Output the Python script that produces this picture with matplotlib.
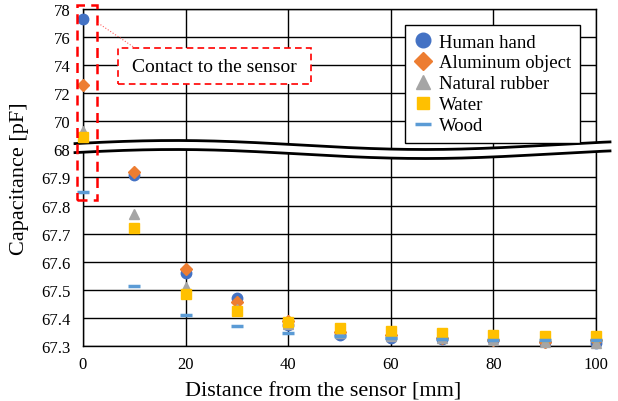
import numpy as np
import matplotlib
matplotlib.use("Agg")
import matplotlib.pyplot as plt
from matplotlib.patches import Rectangle
from matplotlib.ticker import FixedLocator

plt.rcParams['font.family'] = ['Liberation Serif', 'DejaVu Serif']

distance = [0, 10, 20, 30, 40, 50, 60, 70, 80, 90, 100]
human_hand = [77.3, 67.91, 67.56, 67.47, 67.375, 67.34, 67.33, 67.325, 67.32, 67.315, 67.31]
aluminum = [72.6, 67.92, 67.575, 67.455, 67.39, 67.35, 67.34, 67.33, 67.32, 67.315, 67.32]
rubber = [69.3, 67.77, 67.51, 67.43, 67.38, 67.345, 67.335, 67.33, 67.32, 67.315, 67.31]
water = [68.85, 67.72, 67.485, 67.425, 67.385, 67.365, 67.355, 67.345, 67.34, 67.335, 67.335]
wood = [67.85, 67.515, 67.41, 67.37, 67.345, 67.335, 67.33, 67.325, 67.32, 67.32, 67.32]

y_ticks = [67.3, 67.4, 67.5, 67.6, 67.7, 67.8, 67.9, 68, 70, 72, 74, 76, 78]
y_tick_labels = ['67.3', '67.4', '67.5', '67.6', '67.7', '67.8', '67.9', '68', '70', '72', '74', '76', '78']
x_ticks = [0, 20, 40, 60, 80, 100]


# above 68 pF the axis is compressed: 2 pF per grid step instead of 0.1 pF
def forward(y):
    y = np.asarray(y, dtype=float)
    return np.where(y <= 68, y, 68 + (y - 68) / 20)


def inverse(v):
    v = np.asarray(v, dtype=float)
    return np.where(v <= 68, v, 68 + (v - 68) * 20)


fig = plt.figure(figsize=(6.18, 4.02), dpi=100)
W, H = 618, 402
L, R, T, B = 83, 596, 10, 347
ax = fig.add_axes([L / W, 1 - B / H, (R - L) / W, (B - T) / H])

ax.set_yscale('function', functions=(forward, inverse))
ax.set_ylim(67.3, 78)
ax.set_xlim(0, 100)
ax.yaxis.set_major_locator(FixedLocator(y_ticks))
ax.yaxis.set_minor_locator(FixedLocator([]))
ax.set_yticklabels(y_tick_labels)
ax.set_xticks(x_ticks)
ax.tick_params(length=0, labelsize=12)
ax.tick_params(axis='y', pad=9)
ax.tick_params(axis='x', pad=7)
ax.grid(True, color='black', lw=1.0)
ax.set_axisbelow(True)
for s in ax.spines.values():
    s.set_color('black')
    s.set_linewidth(1.0)

ax.set_xlabel('Distance from the sensor [mm]', fontsize=16)
ax.xaxis.set_label_coords(0.468, -0.105)
ax.set_ylabel('Capacitance [pF]', fontsize=16)
ax.yaxis.set_label_coords(-0.105, 0.5)

ms = 7.5
ax.plot(distance, human_hand, 'o', color='#4472C4', ms=ms, label='Human hand', clip_on=False, zorder=4)
ax.plot(distance, aluminum, 'D', color='#ED7D31', ms=ms - 1, label='Aluminum object', clip_on=False, zorder=4)
ax.plot(distance, rubber, '^', color='#A5A5A5', ms=ms, label='Natural rubber', clip_on=False, zorder=4)
ax.plot(distance, water, 's', color='#FFC000', ms=ms - 1, label='Water', clip_on=False, zorder=4)
ax.plot(distance, wood, '_', color='#5B9BD5', ms=8, mew=2.5, label='Wood', clip_on=False, zorder=4)


# wavy break band, drawn in pixel units then mapped to axes fraction
def ax_x(px):
    return (np.asarray(px) - L) / (R - L)


def ax_y(py):
    return (B - np.asarray(py)) / (B - T)


px = np.linspace(75, 610, 300)
upper = 146 - 4.5 * np.cos(2 * np.pi * (px - 175) / 500)
lower = upper + 9
ax.fill_between(ax_x(px), ax_y(upper), ax_y(lower), color='white', transform=ax.transAxes,
                clip_on=False, zorder=3, lw=0)
ax.plot(ax_x(px), ax_y(upper), color='black', lw=2, transform=ax.transAxes, clip_on=False, zorder=3)
ax.plot(ax_x(px), ax_y(lower), color='black', lw=2, transform=ax.transAxes, clip_on=False, zorder=3)

# red dashed highlight around the contact points
x0, x1, y0, y1 = ax_x(77), ax_x(97), ax_y(201), ax_y(6)
ax.add_patch(Rectangle((x0, y0), x1 - x0, y1 - y0, transform=ax.transAxes, fill=False,
                       ec='#FF0000', lw=1.8, ls=(0, (4, 2.5)), clip_on=False, zorder=6))
bx0, bx1, by0, by1 = ax_x(118), ax_x(311), ax_y(85), ax_y(49)
ax.add_patch(Rectangle((bx0, by0), bx1 - bx0, by1 - by0, transform=ax.transAxes, fc='white',
                       ec='#FF0000', lw=1.2, ls=(0, (4, 2.5)), clip_on=False, zorder=6))
ax.text((bx0 + bx1) / 2, (by0 + by1) / 2, 'Contact to the sensor', transform=ax.transAxes,
        ha='center', va='center', fontsize=14, zorder=7)
ax.plot(ax_x([98, 135]), ax_y([24, 49]), color='#FF6060', lw=0.8, ls=':',
        transform=ax.transAxes, clip_on=False, zorder=6)

leg = ax.legend(loc='upper right', bbox_to_anchor=(580 / W, 1 - 26 / H), bbox_transform=fig.transFigure,
                fontsize=13.5, frameon=True, fancybox=False, edgecolor='black', framealpha=1,
                markerscale=1.4, handlelength=1.0, handletextpad=0.4, labelspacing=0.2,
                borderpad=0.45, borderaxespad=0)
leg.get_frame().set_linewidth(1.0)
leg.set_zorder(10)

fig.savefig('out.png', dpi=100)
